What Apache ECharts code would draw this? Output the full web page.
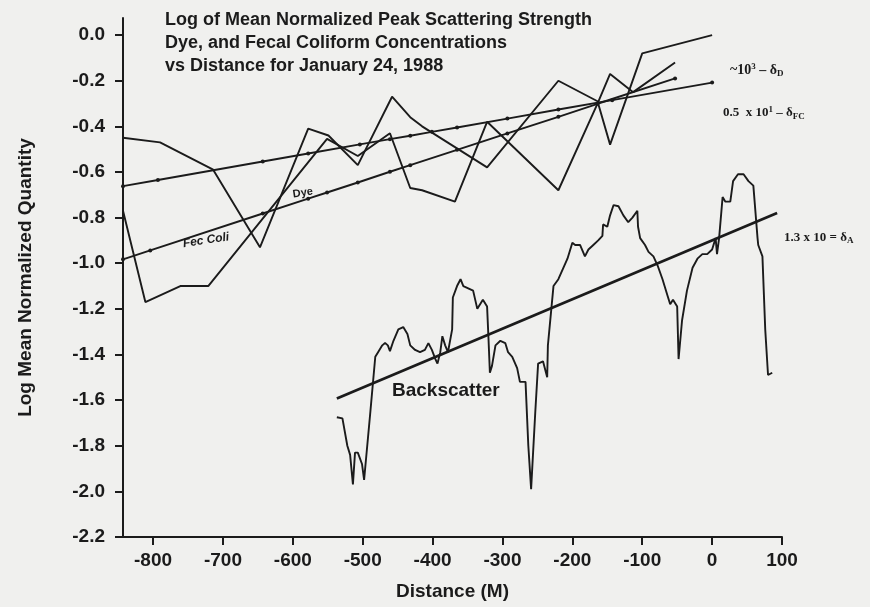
<!DOCTYPE html>
<html><head><meta charset="utf-8">
<script src="https://cdn.jsdelivr.net/npm/echarts@6/dist/echarts.min.js"></script>
<style>html,body{margin:0;padding:0;background:#f0f0ee}#c{width:870px;height:607px}</style>
</head><body><div id="c"></div>
<script>
// Zigzag A (station values)
const zigAX = [-843,-790,-714,-647,-578,-549,-507,-458,-432,-415,-322,-220,-164,-146,-100,0];
const zigAY = [-0.45,-0.47,-0.59,-0.93,-0.41,-0.44,-0.57,-0.27,-0.36,-0.40,-0.58,-0.20,-0.29,-0.48,-0.08,0.0];
// Zigzag B
const zigBX = [-843,-811,-761,-721,-551,-507,-461,-432,-415,-368,-322,-220,-164,-146,-113,-53];
const zigBY = [-0.77,-1.17,-1.10,-1.10,-0.455,-0.53,-0.43,-0.67,-0.68,-0.73,-0.38,-0.68,-0.30,-0.17,-0.25,-0.12];
// Upper fit line with station dots
const fitUX = [-843,-793,-643,-578,-504,-461,-432,-401,-365,-293,-220,-143,0];
const fitUY = [-0.662,-0.635,-0.554,-0.519,-0.479,-0.456,-0.441,-0.424,-0.405,-0.366,-0.326,-0.285,-0.208];
// Lower fit line with station dots
const fitLX = [-843,-804,-643,-578,-551,-507,-461,-432,-365,-293,-220,-164,-53];
const fitLY = [-0.983,-0.944,-0.782,-0.717,-0.690,-0.646,-0.599,-0.570,-0.503,-0.431,-0.358,-0.301,-0.190];
// Backscatter
const bsX = [-537,-529,-522,-518,-514,-511,-507,-501,-498,-489,-482,-478,-472,-468,-464,-461,-456,-449,-442,-436,-432,-425,-418,-411,-406,-401,-396,-393,-389,-386,-382,-378,-372,-371,-365,-360,-356,-349,-342,-336,-332,-328,-322,-320,-318,-315,-310,-303,-296,-292,-286,-279,-275,-267,-263,-259,-253,-249,-242,-236,-235,-227,-220,-207,-200,-196,-189,-182,-177,-170,-163,-157,-156,-150,-146,-141,-134,-127,-120,-114,-107,-106,-103,-96,-91,-84,-78,-71,-64,-60,-56,-50,-48,-43,-36,-28,-21,-14,-7,0,5,7,10,15,19,26,30,37,45,52,59,65,66,72,76,80,86];
const bsY = [-1.675,-1.68,-1.80,-1.84,-1.97,-1.83,-1.83,-1.88,-1.95,-1.65,-1.41,-1.39,-1.36,-1.35,-1.36,-1.385,-1.34,-1.29,-1.28,-1.31,-1.36,-1.38,-1.39,-1.38,-1.35,-1.38,-1.42,-1.44,-1.39,-1.32,-1.36,-1.39,-1.29,-1.15,-1.10,-1.07,-1.10,-1.11,-1.12,-1.20,-1.18,-1.16,-1.19,-1.33,-1.48,-1.45,-1.36,-1.34,-1.35,-1.39,-1.41,-1.46,-1.52,-1.52,-1.80,-1.99,-1.65,-1.44,-1.43,-1.50,-1.36,-1.10,-1.07,-0.98,-0.91,-0.92,-0.92,-0.97,-0.94,-0.92,-0.90,-0.88,-0.83,-0.84,-0.79,-0.745,-0.75,-0.79,-0.82,-0.80,-0.77,-0.84,-0.89,-0.92,-0.95,-0.97,-1.01,-1.07,-1.14,-1.18,-1.16,-1.19,-1.42,-1.25,-1.12,-1.02,-0.98,-0.96,-0.96,-0.94,-0.89,-0.96,-0.89,-0.71,-0.73,-0.73,-0.64,-0.61,-0.61,-0.64,-0.66,-0.89,-0.92,-0.97,-1.29,-1.49,-1.48];
// Backscatter fit
const bsFitX = [-537, 93];
const bsFitY = [-1.593, -0.78];
// Axis ticks
const xTicks = [-800,-700,-600,-500,-400,-300,-200,-100,0,100];
const yTicks = [-2.2,-2.0,-1.8,-1.6,-1.4,-1.2,-1.0,-0.8,-0.6,-0.4,-0.2,0.0];

const zip = (xs, ys) => xs.map((x, i) => [x, ys[i]]);
const INK = '#1b1b1b';
const FONT = '"Liberation Sans", Arial, sans-serif';
const SERIF = '"Liberation Serif", serif';
const chart = echarts.init(document.getElementById('c'), null, {renderer: 'canvas'});
const lineS = (name, xs, ys, w, sym) => ({
  name, type: 'line', data: zip(xs, ys), showSymbol: !!sym, symbol: 'circle', symbolSize: sym || 0,
  itemStyle: {color: INK}, lineStyle: {color: INK, width: w}, animation: false, silent: true, z: 3
});
const supS = {fontSize: 9, fontFamily: SERIF, fontWeight: 'bold', padding: [0,0,7,0]};
const subS = {fontSize: 9, fontFamily: SERIF, fontWeight: 'bold', padding: [7,0,0,0]};
chart.setOption({
  backgroundColor: '#f0f0ee',
  animation: false,
  title: {
    text: 'Log of Mean Normalized Peak Scattering Strength\nDye, and Fecal Coliform Concentrations\nvs Distance for January 24, 1988',
    left: 160, top: 4,
    textStyle: {fontFamily: FONT, fontWeight: 'bold', fontSize: 18, lineHeight: 23, color: INK}
  },
  grid: {left: 123, right: 88, top: 18, bottom: 70},
  xAxis: {
    type: 'value', min: -843, max: 100,
    name: 'Distance (M)', nameLocation: 'middle', nameGap: 45,
    nameTextStyle: {fontFamily: FONT, fontWeight: 'bold', fontSize: 19, color: INK},
    axisLine: {onZero: false, lineStyle: {color: INK, width: 2}},
    axisTick: {customValues: xTicks, length: 8, lineStyle: {color: INK, width: 2}},
    axisLabel: {customValues: xTicks, margin: 14, fontFamily: FONT, fontWeight: 'bold', fontSize: 19, color: INK},
    splitLine: {show: false}
  },
  yAxis: {
    type: 'value', min: -2.2, max: 0.075,
    name: 'Log Mean Normalized Quantity', nameLocation: 'middle', nameGap: 88,
    nameTextStyle: {fontFamily: FONT, fontWeight: 'bold', fontSize: 19, color: INK},
    axisLine: {onZero: false, lineStyle: {color: INK, width: 2}},
    axisTick: {customValues: yTicks, length: 8, lineStyle: {color: INK, width: 2}},
    axisLabel: {customValues: yTicks, margin: 18, fontFamily: FONT, fontWeight: 'bold', fontSize: 19, color: INK,
      formatter: v => (Math.abs(v) < 1e-9 ? 0 : v).toFixed(1)},
    splitLine: {show: false}
  },
  series: [
    lineS('A', zigAX, zigAY, 1.9),
    lineS('B', zigBX, zigBY, 1.9),
    lineS('fitU', fitUX, fitUY, 1.9, 4),
    lineS('fitL', fitLX, fitLY, 1.9, 4),
    lineS('Backscatter', bsX, bsY, 1.9),
    lineS('bsFit', bsFitX, bsFitY, 2.8)
  ],
  graphic: [
    {type: 'text', left: 292, top: 186, rotation: 0.15, style: {text: 'Dye', fontFamily: FONT, fontWeight: 'bold', fontSize: 11, fill: INK}},
    {type: 'text', left: 182, top: 231, rotation: 0.15, style: {text: 'Fec Coli', fontFamily: FONT, fontWeight: 'bold', fontStyle: 'italic', fontSize: 12, fill: INK}},
    {type: 'text', left: 392, top: 381, style: {text: 'Backscatter', fontFamily: FONT, fontWeight: 'bold', fontSize: 19, fill: INK}},
    {type: 'text', left: 730, top: 62, style: {
      text: '~10{sup|3} – δ{sub|D}', fontFamily: SERIF, fontWeight: 'bold', fontSize: 14, fill: INK,
      rich: {sup: supS, sub: subS}}},
    {type: 'text', left: 723, top: 105, style: {
      text: '0.5  x 10{sup|1} – δ{sub|FC}', fontFamily: SERIF, fontWeight: 'bold', fontSize: 13, fill: INK,
      rich: {sup: supS, sub: subS}}},
    {type: 'text', left: 784, top: 231, style: {
      text: '1.3 x 10 = δ{sub|A}', fontFamily: SERIF, fontWeight: 'bold', fontSize: 13, fill: INK,
      rich: {sub: subS}}}
  ]
});
</script></body></html>
